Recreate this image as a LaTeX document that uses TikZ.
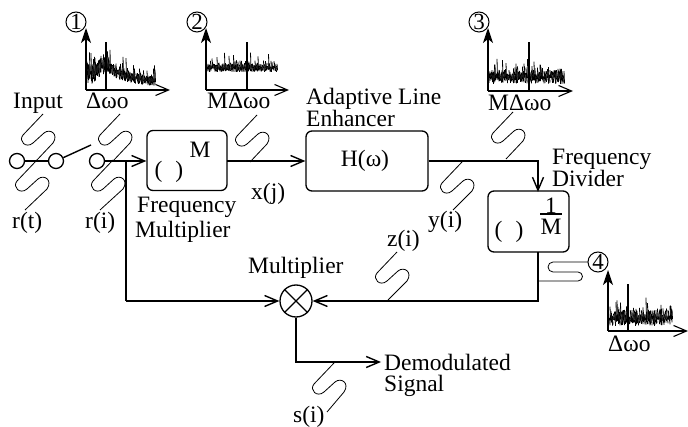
\documentclass[tikz,border=0pt]{standalone}
\usepackage{fontspec}
\setmainfont{Liberation Serif}
\usetikzlibrary{arrows.meta}

\tikzset{
    lbl/.style={anchor=base west, inner sep=0pt, font=\fontsize{23.5}{20}\selectfont},
    twolines/.style={lbl, anchor=north west, align=left},
    blockbox/.style={draw, line width=1.3pt, rounded corners=6pt, inner sep=0pt},
    portnode/.style={draw, circle, line width=1.3pt, minimum size=15pt, inner sep=0pt},
    tagnode/.style={draw, circle, line width=1pt, minimum size=20pt, inner sep=0pt, font=\fontsize{23}{20}\selectfont},
    wire/.style={line width=1.4pt},
    flow/.style={wire, -{Straight Barb[length=13pt,width=11pt]}},
    upaxis/.style={wire, -{Stealth[length=15pt,width=10pt,inset=4pt]}},
    probe/.style={line width=0.8pt},
    pics/squiggle/.style={code={
        \draw[probe] (0,0) -- (-20,21) .. controls (-25,27) and (-17,35) .. (-10,29) -- (1,19)
            .. controls (7,14) and (16,20) .. (10,29) -- (#1);
    }},
    pics/squiggle/.default={-7,47}
}

% axes, tone and noise of one spectrum
% args: origin x, origin y, tone x, top y, arrow end x, noise length, noise centre, noise spread
\newcommand{\spectrum}[8]{
    \draw[upaxis] (#1,#2) -- (#1,#4);
    \draw[flow, line width=1.1pt] (#1,#2) -- (#5,#2);
    \draw[line width=1.5pt] (#3,#2) -- (#3,#4+14);
    \foreach \n in {0,0.5,...,#6} {
        \pgfmathsetmacro{\xa}{#1+\n}
        \pgfmathsetmacro{\ya}{#2+(#7)-(#8)*rnd-13*rnd^6}
        \pgfmathsetmacro{\yb}{#2+(#7)+(#8)*rnd}
        \draw[line width=0.8pt] (\xa,\ya) -- (\xa+0.5,\yb);
    }
}

\begin{document}
\begin{tikzpicture}[x=1pt, y=-1pt, >=stealth]
    \useasboundingbox (0,0) rectangle (688,427);
    \pgfmathsetseed{4711}

    % --- Input switch ---
    \node[portnode] (inA) at (17,161) {};
    \node[portnode] (inB) at (56,161) {};
    \node[portnode] (inC) at (97,161) {};
    \coordinate (armEnd) at (91,145);
    \draw[wire] (inA) -- (inB);
    \draw[wire] (inB) -- (armEnd);

    % --- Blocks ---
    \node[blockbox, minimum width=80pt, minimum height=60pt] (mult) at (187,160.5) {};
    \node[blockbox, minimum width=122pt, minimum height=60pt] (ale) at (367,161) {};
    \node[blockbox, minimum width=81pt, minimum height=61pt] (divd) at (528.5,221.5) {};
    \node[draw, circle, line width=1.3pt, minimum size=32pt, inner sep=0pt] (mixer) at (296,301) {};
    \draw[line width=1.3pt] (mixer.north west) -- (mixer.south east);
    \draw[line width=1.3pt] (mixer.north east) -- (mixer.south west);

    % --- Block contents ---
    \node[lbl, anchor=center] (multM) at (200,150) {M};
    \node[lbl, anchor=center] (multP) at (169,172) {(\hspace{13pt})};
    \node[lbl, anchor=center] (aleH) at (365,161) {H(ω)};
    \node[lbl, anchor=center] (divP) at (509,232) {(\hspace{13pt})};
    \node[lbl, anchor=center, align=center] (divF) at (551,216) {1\\[1pt]M};
    \draw[line width=1.3pt] (540,214) -- (562,214);

    % --- Signal path ---
    \coordinate (tapA) at (126,161);
    \coordinate (tapB) at (126,301);
    \coordinate (cornerR) at (538,161);
    \coordinate (cornerD) at (538,301);
    \coordinate (cornerO) at (296,362);
    \coordinate (demodEnd) at (381,362);
    \coordinate (multOut) at (227,161);
    \draw[flow] (inC) -- (mult.west |- inC);
    \draw[flow] (multOut) -- (ale.west |- multOut);
    \draw[flow] (ale.east |- cornerR) -- (cornerR) -- (538,192);
    \draw[wire] (tapA) -- (tapB);
    \draw[flow] (tapB) -- (mixer.west);
    \draw[flow] (538,252) -- (cornerD) -- (mixer.east);
    \draw[flow] (mixer.south) -- (cornerO) -- (demodEnd);

    % --- Probes ---
    \pic at (43,114) {squiggle};
    \pic at (37,160) {squiggle={-12,50}};
    \pic at (120,114) {squiggle};
    \pic at (113,160) {squiggle={-13,50}};
    \pic at (257,115) {squiggle};
    \pic at (513,112) {squiggle};
    \pic at (462,162) {squiggle={-9,48}};
    \pic at (397,252) {squiggle={-9,48}};
    \pic at (334,363) {squiggle={-7,49}};
    \draw[probe] (588,262) -- (553,262) arc[start angle=90, end angle=270, radius=5pt] -- (578,272)
        arc[start angle=90, end angle=-90, radius=4.5pt] -- (538,281);

    % --- Spectra ---
    \spectrum{86}{90}{106}{28}{170}{69}{-(7+20*exp(-abs(\n-20)/20))}{3+9*exp(-\n/40)}
    \spectrum{206}{90}{247}{28}{289}{71}{-22}{4}
    \spectrum{488}{91}{529}{28}{573}{76}{-14}{7}
    \spectrum{608}{331}{628}{270}{688}{64}{-13}{8}

    \node[tagnode] (tagA) at (76,22) {1};
    \node[tagnode] (tagB) at (197,22) {2};
    \node[tagnode] (tagC) at (479,22) {3};
    \node[tagnode] (tagD) at (598,262) {4};

    % --- Labels ---
    \node[lbl] (lblInput) at (13,109) {Input};
    \node[lbl] (lblA) at (86,109) {Δωo};
    \node[lbl] (lblB) at (207,109) {MΔωo};
    \node[lbl] (lblC) at (488,111) {MΔωo};
    \node[lbl] (lblD) at (608,352) {Δωo};
    \node[twolines] (lblAle) at (306,88) {Adaptive Line\\Enhancer};
    \node[twolines] (lblFd) at (552,149) {Frequency\\Divider};
    \node[twolines] (lblFm) at (135,197) {\hspace{2pt}Frequency\\[3pt]Multiplier};
    \node[lbl] (lblMix) at (248,274) {Multiplier};
    \node[twolines] (lblDem) at (384,354) {Demodulated\\[1pt]Signal};
    \node[lbl] (lblRt) at (12,229) {r(t)};
    \node[lbl] (lblRi) at (85,229) {r(i)};
    \node[lbl] (lblXj) at (251,200) {x(j)};
    \node[lbl] (lblYi) at (428,228) {y(i)};
    \node[lbl] (lblZi) at (387,247) {z(i)};
    \node[lbl] (lblSi) at (293,422) {s(i)};
\end{tikzpicture}
\end{document}
